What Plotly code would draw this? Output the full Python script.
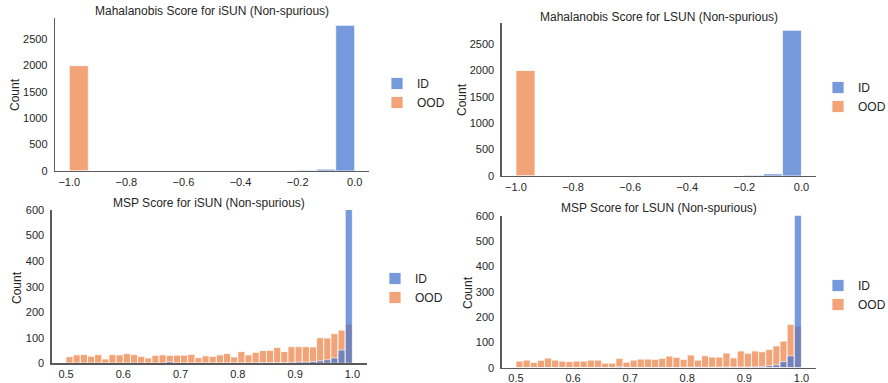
import numpy as np
import plotly.graph_objects as go

# ---------------- data ----------------
# Mahalanobis histograms: 15 bins from -1.0 to 0.0
maha_bin_start = -1.0
maha_bin_width = 1.0 / 15
maha_isun_id = [0, 0, 0, 0, 0, 0, 0, 0, 0, 0, 0, 0, 15, 35, 2760]
maha_isun_ood = [1995, 0, 0, 0, 0, 0, 0, 0, 0, 0, 0, 0, 0, 0, 0]
maha_lsun_id = [0, 0, 0, 0, 0, 0, 0, 0, 0, 0, 0, 0, 15, 40, 2760]
maha_lsun_ood = [2000, 0, 0, 0, 0, 0, 0, 0, 0, 0, 0, 0, 0, 0, 0]

# MSP histograms: 40 bins from 0.5 to 1.0
msp_bin_start = 0.5
msp_bin_width = 0.0125
msp_isun_ood = [26, 33, 34, 28, 34, 17, 34, 33, 38, 34, 27, 21, 31, 33, 31, 32, 32, 35, 22, 29,
                27, 33, 38, 25, 46, 33, 43, 50, 51, 62, 46, 65, 65, 65, 64, 100, 99, 116, 130, 153]
msp_isun_id = [0, 0, 0, 0, 0, 0, 0, 0, 0, 0, 0, 0, 0, 0, 6, 1, 1, 1, 1, 2,
               1, 1, 2, 2, 2, 2, 2, 3, 3, 3, 3, 4, 5, 5, 7, 10, 14, 21, 52, 2600]
msp_lsun_ood = [26, 30, 21, 29, 38, 30, 26, 24, 26, 26, 30, 30, 18, 18, 37, 22, 30, 34, 34, 33,
                37, 46, 41, 33, 50, 30, 47, 42, 42, 58, 39, 66, 57, 66, 63, 72, 86, 105, 171, 164]
msp_lsun_id = [0, 0, 0, 0, 0, 0, 0, 0, 0, 0, 0, 0, 0, 0, 4, 1, 1, 1, 1, 1,
               1, 1, 1, 2, 2, 2, 2, 2, 3, 3, 3, 3, 3, 4, 5, 8, 11, 24, 47, 2600]

maha_xticks = [-1.0, -0.8, -0.6, -0.4, -0.2, 0.0]
maha_xticklabels = ["\u22121.0", "\u22120.8", "\u22120.6", "\u22120.4", "\u22120.2", "0.0"]
maha_yticks = [0, 500, 1000, 1500, 2000, 2500]
msp_xticks = [0.5, 0.6, 0.7, 0.8, 0.9, 1.0]
msp_xticklabels = ["0.5", "0.6", "0.7", "0.8", "0.9", "1.0"]
msp_yticks = [0, 100, 200, 300, 400, 500, 600]
msp_ymax = 600

titles = ["Mahalanobis Score for iSUN (Non-spurious)", "Mahalanobis Score for LSUN (Non-spurious)",
          "MSP Score for iSUN (Non-spurious)", "MSP Score for LSUN (Non-spurious)"]
series_names = ["ID", "OOD"]

# ---------------- styling / layout ----------------
W, H = 888, 383
ID_COLOR = "#4878D0"
OOD_COLOR = "#EE854A"
FONT = "Liberation Sans, Arial, sans-serif"
TEXT = "#262626"
SPINE = "#5a5a5a"

def px_x(v):
    return v / W

def px_y(v):
    return 1 - v / H

# panel pixel boxes: (left, right, top, bottom)
panels = [
    (55, 369, 18, 171),
    (501.7, 815.7, 23, 176),
    (51.7, 366.7, 210, 363.3),
    (501.7, 815.7, 215.7, 367.7),
]
title_centers_y = [11, 17, 203, 208]
count_pos = [(15, 95), (462, 100), (17, 288), (468, 292)]
legend_pos = [(377, 69), (818, 73), (375, 264), (818, 271)]

def centers(start, width, n):
    return [start + width * (i + 0.5) for i in range(n)]

panel_data = [
    (maha_isun_id, maha_isun_ood, maha_bin_start, maha_bin_width),
    (maha_lsun_id, maha_lsun_ood, maha_bin_start, maha_bin_width),
    (msp_isun_id, msp_isun_ood, msp_bin_start, msp_bin_width),
    (msp_lsun_id, msp_lsun_ood, msp_bin_start, msp_bin_width),
]

fig = go.Figure()
annotations = []
layout_axes = {}
for k, (ids, oods, start, width) in enumerate(panel_data):
    n = len(ids)
    xc = centers(start, width, n)
    ax = "" if k == 0 else str(k + 1)
    leg = "legend" if k == 0 else "legend" + str(k + 1)
    # OOD drawn first, ID on top (seaborn layering)
    fig.add_trace(go.Bar(x=xc, y=oods, width=[width] * n, name=series_names[1],
                         marker=dict(color=OOD_COLOR, line=dict(color="white", width=0.8)),
                         opacity=0.75, xaxis="x" + ax, yaxis="y" + ax, legend=leg,
                         legendrank=2, hoverinfo="skip"))
    fig.add_trace(go.Bar(x=xc, y=ids, width=[width] * n, name=series_names[0],
                         marker=dict(color=ID_COLOR, line=dict(color="white", width=0.8)),
                         opacity=0.75, xaxis="x" + ax, yaxis="y" + ax, legend=leg,
                         legendrank=1, hoverinfo="skip"))

    left, right, top, bottom = panels[k]
    data_lo = start
    data_hi = start + width * n
    margin = 0.05 * (data_hi - data_lo)
    if k < 2:
        ymax = 1.05 * max(max(ids), max(oods))
        yt = maha_yticks
        xt, xtl = maha_xticks, maha_xticklabels
    else:
        ymax = msp_ymax
        yt = msp_yticks
        xt, xtl = msp_xticks, msp_xticklabels

    layout_axes["xaxis" + ax] = dict(
        domain=[px_x(left), px_x(right)], anchor="y" + ax,
        range=[data_lo - margin, data_hi + margin],
        tickvals=xt, ticktext=xtl, showgrid=False, zeroline=False,
        showline=True, linecolor=SPINE, linewidth=1.3,
        ticks="",
        tickfont=dict(family=FONT, size=11, color=TEXT),
    )
    layout_axes["yaxis" + ax] = dict(
        domain=[px_y(bottom), px_y(top)], anchor="x" + ax,
        range=[0, ymax], tickvals=yt, showgrid=False, zeroline=False,
        showline=True, linecolor=SPINE, linewidth=1.3,
        ticks="outside", ticklen=4, tickcolor="rgba(0,0,0,0)",
        tickfont=dict(family=FONT, size=11, color=TEXT),
    )

    annotations.append(dict(text=titles[k], x=px_x((left + right) / 2), y=px_y(title_centers_y[k]),
                            xref="paper", yref="paper", xanchor="center", yanchor="middle",
                            showarrow=False, font=dict(family=FONT, size=12, color=TEXT)))
    cx, cy = count_pos[k]
    annotations.append(dict(text="Count", x=px_x(cx), y=px_y(cy), xref="paper", yref="paper",
                            xanchor="center", yanchor="middle", textangle=-90, showarrow=False,
                            font=dict(family=FONT, size=12, color=TEXT)))

    lx, ly = legend_pos[k]
    layout_axes[leg] = dict(x=px_x(lx), y=px_y(ly), xanchor="left", yanchor="top",
                            bgcolor="rgba(0,0,0,0)", borderwidth=0,
                            font=dict(family=FONT, size=12, color=TEXT),
                            traceorder="normal", itemwidth=30)

fig.update_layout(
    width=W, height=H,
    margin=dict(l=0, r=0, t=0, b=0, autoexpand=False),
    paper_bgcolor="white", plot_bgcolor="white",
    barmode="overlay", bargap=0,
    annotations=annotations,
    showlegend=True,
    hovermode=False,
    **layout_axes,
)

fig.write_html("out.html", config={"displayModeBar": False, "staticPlot": True},
               post_script="document.body.style.margin='0';document.body.style.overflow='hidden';")
